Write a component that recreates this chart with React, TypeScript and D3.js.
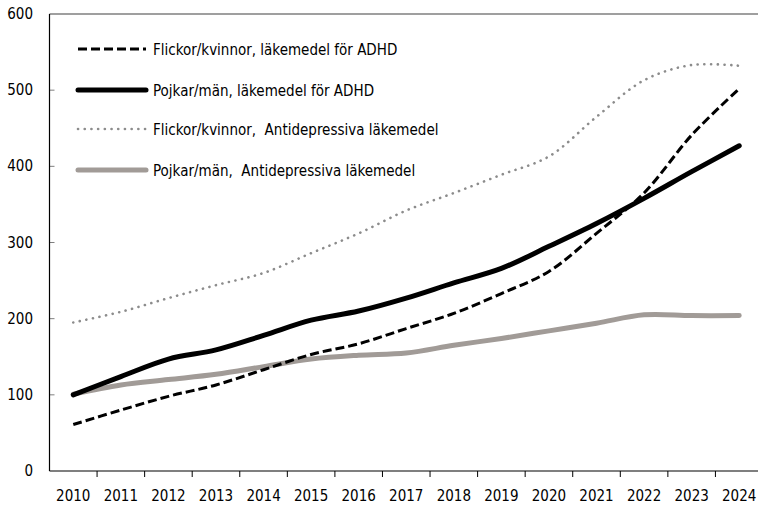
import React, { useEffect, useRef } from "react";
import * as d3 from "d3";

const years = ["2010","2011","2012","2013","2014","2015","2016","2017","2018","2019","2020","2021","2022","2023","2024"];
const flickorADHD = [61, 80, 98, 113, 133, 153, 167, 187, 207, 233, 262, 312, 365, 441, 502];
const pojkarADHD = [100, 124, 147, 159, 178, 198, 210, 227, 247, 266, 295, 325, 358, 393, 427];
const flickorAD = [195, 209, 227, 244, 260, 286, 312, 342, 365, 389, 413, 465, 513, 533, 532];
const pojkarAD = [101, 113, 120, 127, 137, 147, 152, 155, 165, 174, 184, 194, 205, 204, 204];
const yTicks = [0, 100, 200, 300, 400, 500, 600];
const seriesNames = [
  "Flickor/kvinnor, läkemedel för ADHD",
  "Pojkar/män, läkemedel för ADHD",
  "Flickor/kvinnor,  Antidepressiva läkemedel",
  "Pojkar/män,  Antidepressiva läkemedel",
];

const FONT = "'Liberation Sans Narrow', 'DejaVu Sans Condensed', 'Arial Narrow', sans-serif";

export default function App() {
  const ref = useRef<SVGSVGElement | null>(null);

  useEffect(() => {
    const svg = d3.select(ref.current);
    svg.selectAll("*").remove();
    const left = 49.5, right = 763, top = 14, bottom = 471;
    const x = d3.scaleBand().domain(years).range([left, right]).padding(0);
    const y = d3.scaleLinear().domain([0, 600]).range([bottom, top]);

    const styles = [
      { data: flickorADHD, stroke: "#000", width: 3, dash: "9,4", cap: "butt" },
      { data: pojkarADHD, stroke: "#000", width: 5, dash: null, cap: "round" },
      { data: flickorAD, stroke: "#8c8c8c", width: 2.6, dash: "0.1,6.6", cap: "round" },
      { data: pojkarAD, stroke: "#a19b97", width: 5, dash: null, cap: "round" },
    ];

    // top border
    svg.append("line").attr("x1", left).attr("x2", right).attr("y1", y(600)).attr("y2", y(600))
      .attr("stroke", "#7f7f7f").attr("stroke-width", 1.3);

    // y ticks (inside)
    yTicks.forEach(t => {
      if (t === 0 || t === 600) return;
      svg.append("line").attr("x1", left).attr("x2", left + 5).attr("y1", y(t)).attr("y2", y(t))
        .attr("stroke", "#7f7f7f").attr("stroke-width", 1);
    });
    yTicks.forEach(t => {
      svg.append("text").attr("x", 33).attr("y", y(t) + 5).attr("text-anchor", "end")
        .attr("font-family", FONT).attr("font-size", 15).attr("fill", "#000").text(String(t));
    });

    // left axis
    svg.append("line").attr("x1", left).attr("x2", left).attr("y1", top).attr("y2", bottom)
      .attr("stroke", "#000").attr("stroke-width", 1.2);
    // bottom axis
    svg.append("line").attr("x1", left).attr("x2", right).attr("y1", bottom).attr("y2", bottom)
      .attr("stroke", "#000").attr("stroke-width", 1.2);
    years.forEach((yr, i) => {
      const xs = (x(yr) as number);
      if (i > 0) {
        svg.append("line").attr("x1", xs).attr("x2", xs).attr("y1", bottom).attr("y2", bottom + 6)
          .attr("stroke", "#000").attr("stroke-width", 1);
      }
      svg.append("text").attr("x", xs + x.bandwidth() / 2).attr("y", 501).attr("text-anchor", "middle")
        .attr("font-family", FONT).attr("font-size", 15).attr("fill", "#000").text(yr);
    });

    const line = d3.line<number>()
      .x((_, i) => (x(years[i]) as number) + x.bandwidth() / 2)
      .y(d => y(d))
      .curve(d3.curveCatmullRom.alpha(0.5));

    // draw order: gray dotted, gray solid, dashed, solid black
    [2, 3, 0, 1].forEach(k => {
      const s = styles[k];
      const p = svg.append("path").attr("d", line(s.data) as string).attr("fill", "none")
        .attr("stroke", s.stroke).attr("stroke-width", s.width).attr("stroke-linecap", s.cap)
        .attr("stroke-linejoin", "round");
      if (s.dash) p.attr("stroke-dasharray", s.dash);
    });

    // legend
    const legY = [49, 90, 129, 170];
    styles.forEach((s, k) => {
      const g = svg.append("line").attr("x1", 78).attr("x2", 146).attr("y1", legY[k]).attr("y2", legY[k])
        .attr("stroke", s.stroke).attr("stroke-width", s.width).attr("stroke-linecap", s.cap);
      if (s.dash) g.attr("stroke-dasharray", s.dash);
      svg.append("text").attr("x", 153).attr("y", legY[k] + 5.5)
        .attr("font-family", FONT).attr("font-size", 15).attr("fill", "#000")
        .attr("xml:space", "preserve").style("white-space", "pre").text(seriesNames[k]);
    });
  }, []);

  return (
    <svg ref={ref} width={758} height={506}
      style={{ position: "absolute", left: 0, top: 0, background: "#fff", display: "block" }} />
  );
}
